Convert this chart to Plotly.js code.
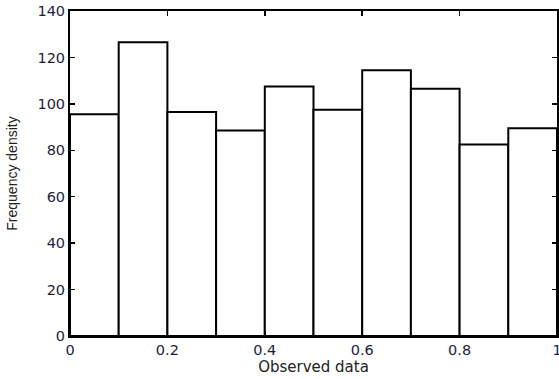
<!DOCTYPE html>
<html>
<head>
<meta charset="utf-8">
<script src="https://cdn.plot.ly/plotly-3.0.1.min.js"></script>
<style>html,body{margin:0;padding:0;background:#fff;}#chart{width:559px;height:379px;}</style>
</head>
<body>
<div id="chart"></div>
<script>
// Histogram bins (centres) and frequency densities
const binCenters = [0.05, 0.15, 0.25, 0.35, 0.45, 0.55, 0.65, 0.75, 0.85, 0.95];
const binWidths = [0.1, 0.1, 0.1, 0.1, 0.1, 0.1, 0.1, 0.1, 0.1, 0.1];
const densities = [95.5, 126.5, 96.5, 88.5, 107.5, 97.5, 114.5, 106.5, 82.5, 89.5];
const xTitle = "Observed data";
const yTitle = "Frequency density";

const tickFont = {family: "DejaVu Sans", size: 14.5, color: "#1e1e3c"};

const trace = {
  type: "bar",
  x: binCenters,
  y: densities,
  width: binWidths,
  marker: {color: "#ffffff", line: {color: "#000000", width: 2}},
  hoverinfo: "x+y"
};

const layout = {
  width: 559, height: 379,
  margin: {l: 70, r: 2, t: 11, b: 43},
  paper_bgcolor: "#ffffff", plot_bgcolor: "#ffffff",
  showlegend: false,
  bargap: 0,
  xaxis: {
    range: [0, 1], dtick: 0.2, tick0: 0,
    showgrid: false, zeroline: false,
    showline: true, linecolor: "#000", linewidth: 2, mirror: "ticks",
    ticks: "inside", ticklen: 5, tickwidth: 1.5, tickcolor: "#000",
    tickfont: tickFont, ticklabeloverflow: "allow",
    title: {text: xTitle, font: {family: "DejaVu Sans", size: 15, color: "#222"}, standoff: 3},
    automargin: false
  },
  yaxis: {
    range: [0, 140], dtick: 20, tick0: 0,
    showgrid: false, zeroline: false,
    showline: true, linecolor: "#000", linewidth: 2, mirror: "ticks",
    ticks: "inside", ticklen: 5, tickwidth: 1.5, tickcolor: "#000",
    tickfont: tickFont,
    title: {text: yTitle, font: {family: "Liberation Sans", size: 14, color: "#222"}, standoff: 17},
    automargin: false
  }
};

Plotly.newPlot("chart", [trace], layout, {displayModeBar: false, staticPlot: true});
</script>
</body>
</html>
